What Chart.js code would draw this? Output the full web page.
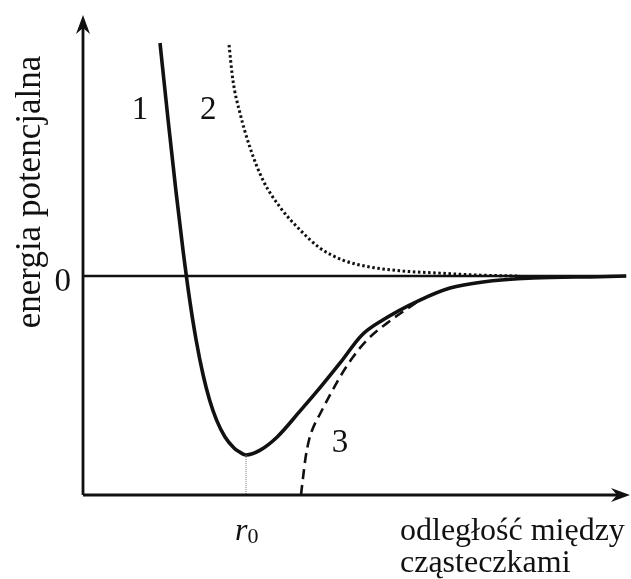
<!DOCTYPE html>
<html>
<head>
<meta charset="utf-8">
<script src="https://cdn.jsdelivr.net/npm/chart.js@4.4.0/dist/chart.umd.min.js"></script>
<style>
  html, body { margin: 0; padding: 0; background: #fff; }
  #wrap { width: 631px; height: 579px; }
</style>
</head>
<body>
<div id="wrap"><canvas id="potChart" width="631" height="579"></canvas></div>
<script>
// curve 1: full potential (solid)
const curve1R = [1.408, 1.556, 1.697, 1.828, 1.951, 2.068, 2.196, 2.314, 2.442, 2.596, 2.761, 2.834, 2.98, 3.24, 3.55, 3.97, 4.33, 4.70, 5.10, 5.48, 6.16, 6.71, 7.31, 8.23, 9.45, 9.93];
const curve1E = [1.064, 0.712, 0.393, 0.119, -0.110, -0.292, -0.452, -0.566, -0.658, -0.735, -0.785, -0.799, -0.817, -0.795, -0.735, -0.616, -0.511, -0.397, -0.269, -0.201, -0.110, -0.055, -0.027, -0.009, -0.003, 0];

// curve 2: repulsion (dotted)
const curve2R = [2.67, 2.74, 2.87, 3.05, 3.29, 3.60, 3.97, 4.33, 4.75, 5.25, 5.85, 6.47, 7.26, 7.99];
const curve2E = [1.055, 0.895, 0.744, 0.589, 0.438, 0.315, 0.210, 0.128, 0.073, 0.041, 0.023, 0.014, 0.004, 0];

// curve 3: attraction (dashed)
const curve3R = [3.985, 4.022, 4.068, 4.132, 4.205, 4.333, 4.516, 4.698, 4.936, 5.192, 5.558, 6.106];
const curve3E = [-1.0, -0.922, -0.831, -0.749, -0.694, -0.630, -0.543, -0.461, -0.370, -0.292, -0.215, -0.119];

const zeroLineR = [0, 9.93];
const r0Value = 2.98;
const eMin = -0.817;

const xRange = [0, 10];
const yRange = [-1, 1.183];

const curveNames = ['1', '2', '3'];
const yTickLabels = ['0'];
const xTickLabels = ['r', '0'];
const yTitle = 'energia potencjalna';
const xTitle = ['odległość między', 'cząsteczkami'];

const pts = (xs, ys) => xs.map((x, i) => ({ x, y: ys[i] }));
const SERIF = '"Liberation Serif", "Times New Roman", serif';

const decorPlugin = {
  id: 'decor',
  afterDatasetsDraw(chart) {
    const { ctx, chartArea: a, scales } = chart;
    const px = v => scales.x.getPixelForValue(v);
    const py = v => scales.y.getPixelForValue(v);
    ctx.save();
    ctx.strokeStyle = '#111';
    ctx.fillStyle = '#111';
    ctx.lineWidth = 2.8;
    ctx.setLineDash([]);

    // axes
    ctx.beginPath();
    ctx.moveTo(a.left, a.bottom);
    ctx.lineTo(a.left, a.top + 6);
    ctx.moveTo(a.left, a.bottom);
    ctx.lineTo(a.right - 6, a.bottom);
    ctx.stroke();

    // arrow heads
    const arrow = (x, y, dx, dy) => {
      const nx = -dy, ny = dx;
      ctx.beginPath();
      ctx.moveTo(x, y);
      ctx.lineTo(x - dx * 19 + nx * 7, y - dy * 19 + ny * 7);
      ctx.lineTo(x - dx * 13, y - dy * 13);
      ctx.lineTo(x - dx * 19 - nx * 7, y - dy * 19 - ny * 7);
      ctx.closePath();
      ctx.fill();
    };
    arrow(a.left, a.top - 2, 0, -1);
    arrow(a.right, a.bottom, 1, 0);

    // labels
    ctx.font = '33px ' + SERIF;
    ctx.textAlign = 'center';
    ctx.textBaseline = 'middle';
    ctx.fillText(curveNames[0], px(1.04), py(0.758));
    ctx.fillText(curveNames[1], px(2.29), py(0.758));
    ctx.fillText(curveNames[2], px(4.70), py(-0.763));

    ctx.textAlign = 'right';
    ctx.fillText(yTickLabels[0], a.left - 12, py(0) + 6);

    // r0
    ctx.textAlign = 'left';
    ctx.textBaseline = 'alphabetic';
    ctx.font = 'italic 32px ' + SERIF;
    const rx = px(r0Value) - 11;
    ctx.fillText(xTickLabels[0], rx, a.bottom + 45);
    const rw = ctx.measureText(xTickLabels[0]).width;
    ctx.font = '22px ' + SERIF;
    ctx.fillText(xTickLabels[1], rx + rw, a.bottom + 48);

    // axis titles
    ctx.font = '32px ' + SERIF;
    ctx.fillText(xTitle[0], 400, a.bottom + 45);
    ctx.fillText(xTitle[1], 400, a.bottom + 77);

    ctx.save();
    ctx.translate(40, 192);
    ctx.rotate(-Math.PI / 2);
    ctx.textAlign = 'center';
    ctx.font = '35px ' + SERIF;
    ctx.fillText(yTitle, 0, 0);
    ctx.restore();

    ctx.restore();
  }
};

new Chart(document.getElementById('potChart').getContext('2d'), {
  type: 'line',
  data: {
    datasets: [
      {
        data: pts(zeroLineR, [0, 0]),
        borderColor: '#111',
        borderWidth: 2.4,
        pointRadius: 0,
      },
      {
        data: pts([r0Value, r0Value], [eMin, yRange[0]]),
        borderColor: '#777',
        borderWidth: 1,
        borderDash: [1, 1],
        pointRadius: 0,
      },
      {
        data: pts(curve2R, curve2E),
        borderColor: '#111',
        borderWidth: 3,
        borderDash: [2.5, 2.6],
        pointRadius: 0,
        cubicInterpolationMode: 'monotone',
      },
      {
        data: pts(curve3R, curve3E),
        borderColor: '#111',
        borderWidth: 2.6,
        borderDash: [10, 6],
        pointRadius: 0,
        cubicInterpolationMode: 'monotone',
      },
      {
        data: pts(curve1R, curve1E),
        borderColor: '#111',
        borderWidth: 3.6,
        pointRadius: 0,
        cubicInterpolationMode: 'monotone',
      },
    ],
  },
  options: {
    responsive: false,
    animation: false,
    layout: { padding: { left: 83, right: 1, top: 17, bottom: 84 } },
    plugins: { legend: { display: false }, tooltip: { enabled: false } },
    scales: {
      x: { type: 'linear', min: xRange[0], max: xRange[1], display: false },
      y: { type: 'linear', min: yRange[0], max: yRange[1], display: false },
    },
  },
  plugins: [decorPlugin],
});
</script>
</body>
</html>
